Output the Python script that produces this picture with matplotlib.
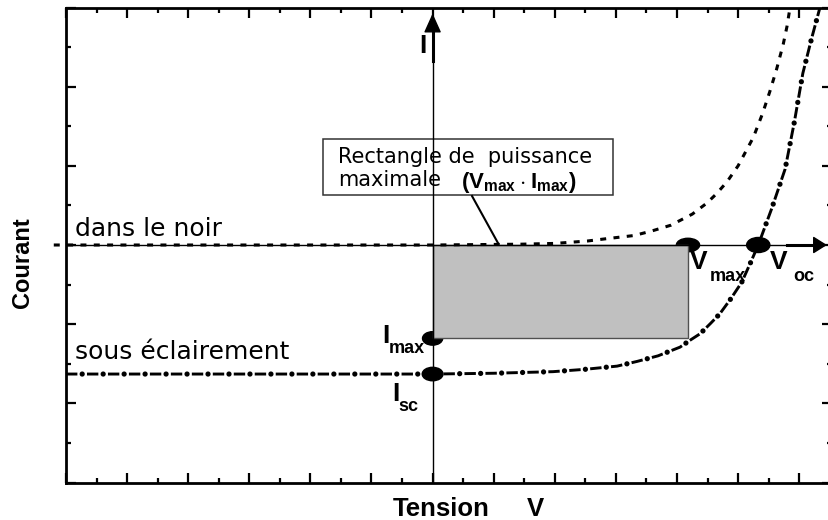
import matplotlib
matplotlib.use('Agg')
import matplotlib.pyplot as plt
from matplotlib.patches import Rectangle, Ellipse
from matplotlib.ticker import MultipleLocator

plt.rcParams['lines.scale_dashes'] = False
plt.rcParams['mathtext.fontset'] = 'custom'
plt.rcParams['mathtext.rm'] = 'Liberation Sans'
plt.rcParams['mathtext.bf'] = 'Liberation Sans:bold'

# caracteristique I(V) dans le noir
v_noir = [-6.2, -4.0, -2.0, 0.0, 1.43, 2.0, 2.53, 2.85, 3.3, 3.60, 3.9, 4.05, 4.25, 4.49,
          4.65, 4.82, 5.0, 5.25, 5.4, 5.52, 5.63, 5.74, 5.8, 5.85]
i_noir = [0.0, 0.0, 0.0, 0.0, 0.01, 0.02, 0.05, 0.08, 0.12, 0.18, 0.25, 0.31, 0.39, 0.53,
          0.65, 0.80, 1.0, 1.36, 1.66, 1.94, 2.22, 2.54, 2.76, 3.0]

# caracteristique I(V) sous eclairement
v_ecl = [-6.0, -4.0, -2.0, 0.0, 1.0, 1.97, 2.5, 3.02, 3.35, 3.69, 4.05, 4.2, 4.38, 4.55,
         4.70, 4.88, 5.06, 5.2, 5.33, 5.55, 5.77, 5.92, 6.06, 6.2, 6.34]
i_ecl = [-1.63, -1.63, -1.63, -1.63, -1.62, -1.60, -1.57, -1.53, -1.47, -1.40, -1.29, -1.21,
         -1.12, -0.99, -0.87, -0.68, -0.47, -0.23, 0.0, 0.46, 0.96, 1.55, 2.17, 2.60, 3.0]

# points remarquables
i_sc = -1.63
i_max = -1.18
v_max = 4.18
v_oc = 5.33

fig = plt.figure(figsize=(8.29, 5.2), dpi=100)
ax = fig.add_axes([66 / 829, 1 - 482.5 / 520, (832 - 66) / 829, 475 / 520])
ax.set_xlim(-6, 6.537)
ax.set_ylim(-3, 3)

for s in ax.spines.values():
    s.set_linewidth(2)
ax.xaxis.set_major_locator(MultipleLocator(1))
ax.xaxis.set_minor_locator(MultipleLocator(0.5))
ax.yaxis.set_major_locator(MultipleLocator(1))
ax.yaxis.set_minor_locator(MultipleLocator(0.5))
ax.tick_params(which='both', direction='in', top=True, right=True,
               labelbottom=False, labelleft=False, width=1.6)
ax.tick_params(which='major', length=7)
ax.tick_params(which='minor', length=3.5)

# axes internes (fleches)
ax.plot([-6, 6.4], [0, 0], color='k', lw=1, zorder=5)
ax.plot([0, 0], [-3, 2.85], color='k', lw=1, zorder=5)
ax.plot([5.8, 6.34], [0, 0], color='k', lw=2.2, zorder=5)
ax.plot([0, 0], [2.32, 2.74], color='k', lw=2.2, zorder=5)
ax.annotate('', xy=(6.5, 0), xytext=(6.2, 0),
            arrowprops=dict(arrowstyle='-|>,head_length=0.43,head_width=0.27',
                            color='k', lw=1, mutation_scale=20), zorder=6)
ax.annotate('', xy=(0, 2.96), xytext=(0, 2.7),
            arrowprops=dict(arrowstyle='-|>,head_length=0.6,head_width=0.27',
                            color='k', lw=1, mutation_scale=20), zorder=6)

# rectangle de puissance maximale
ax.add_patch(Ellipse((0, i_max), 0.33, 0.17, color='k', zorder=2.5))
ax.add_patch(Ellipse((v_max, 0), 0.38, 0.17, color='k', zorder=2.5))
ax.add_patch(Rectangle((0, i_max), v_max, -i_max, facecolor='#c0c0c0',
                       edgecolor='#505050', lw=1, zorder=3))
ax.add_patch(Ellipse((0, i_sc), 0.34, 0.17, color='k', zorder=6))
ax.add_patch(Ellipse((v_oc, 0), 0.38, 0.19, color='k', zorder=6))

# courbes
ax.plot(v_noir, i_noir, color='k', lw=2.2, linestyle=(0, (4.3, 5.3)),
        dash_capstyle='butt', zorder=4, clip_on=False)
ax.plot(v_ecl, i_ecl, color='k', lw=2.1, linestyle=(0, (8.2, 6.9)),
        dash_capstyle='butt', zorder=4)
ax.plot(v_ecl, i_ecl, color='k', lw=3.8, linestyle=(3.45, (0.01, 15.09)),
        dash_capstyle='round', zorder=4)

# encadre
ax.add_patch(Rectangle((-1.794, 0.631), 4.747, 0.707, facecolor='white',
                       edgecolor='#333333', lw=1.1, zorder=3))
ax.text(-1.548, 1.035, 'Rectangle de  puissance', fontsize=15,
        family='DejaVu Sans', va='baseline', zorder=4)
ax.text(-1.548, 0.745, 'maximale', fontsize=15,
        family='DejaVu Sans', va='baseline', zorder=4)
ax.text(0.47, 0.725, r'$\mathbf{(V_{max}\cdot I_{max})}$', fontsize=16,
        va='baseline', zorder=4)
ax.plot([0.645, 1.07], [0.619, 0.025], color='k', lw=1.5, zorder=4)


def label(txt, xy, dx, dy, size, weight='bold', family='Liberation Sans'):
    ax.annotate(txt, xy=xy, xytext=(dx, dy), textcoords='offset pixels',
                ha='left', va='baseline', fontsize=size, fontweight=weight,
                family=family, zorder=7)


label('I', (0, 3), -13.6, -45.5, 19)
label('I', (0, i_max), -50.6, -4.5, 19)
label('max', (0, i_max), -43.6, -14.5, 13)
label('I', (0, i_sc), -40.6, -26.9, 19)
label('sc', (0, i_sc), -34.6, -36.9, 13)
label('V', (v_max, 0), 2, -24, 19)
label('max', (v_max, 0), 22, -36, 13)
label('V', (v_oc, 0), 11.7, -24, 19)
label('oc', (v_oc, 0), 34.7, -36, 13)
label('dans le noir', (-6, 0), 9, 9, 18, 'normal', 'DejaVu Sans')
label('sous éclairement', (-6, i_sc), 9, 15, 18, 'normal', 'DejaVu Sans')

fig.text(23 / 829, 1 - 263 / 520, 'Courant', rotation=90, ha='center', va='center',
         fontsize=17, fontweight='bold', family='Liberation Sans')
fig.text(393 / 829, 1 - 516 / 520, 'Tension', va='baseline',
         fontsize=18.5, fontweight='bold', family='Liberation Sans')
fig.text(527 / 829, 1 - 516 / 520, 'V', va='baseline',
         fontsize=18.5, fontweight='bold', family='Liberation Sans')

fig.savefig('out.png', dpi=100)
